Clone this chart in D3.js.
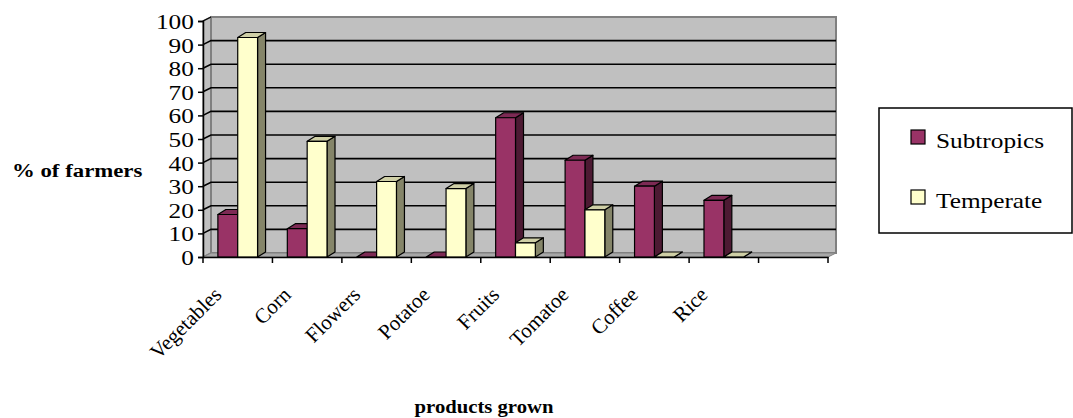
<!DOCTYPE html>
<html>
<head>
<meta charset="utf-8">
<script src="https://cdn.jsdelivr.net/npm/d3@7"></script>
<style>
  html, body { margin: 0; padding: 0; background: #ffffff; }
  svg { display: block; }
  text { font-family: "Liberation Serif", "Times New Roman", serif; fill: #000; }
</style>
</head>
<body>
<svg id="chart" width="1073" height="418"></svg>
<script>
// Share of farmers growing each product, by climate zone
const categories = ["Vegetables", "Corn", "Flowers", "Potatoe", "Fruits", "Tomatoe", "Coffee", "Rice", ""];
const seriesNames = ["Subtropics", "Temperate"];
const subtropics = [18, 12, 0, 0, 59, 41, 30, 24, null];
const temperate  = [93, 49, 32, 29, 6, 20, 0, 0, null];
const yTicks = [0, 10, 20, 30, 40, 50, 60, 70, 80, 90, 100];

const svg = d3.select("#chart");

// front plane of the plot and 3-D offsets
const X0 = 203, X1 = 828, Y0 = 257, Y1 = 21;
const WDX = 8, WDY = -4;   // wall depth
const BDX = 8, BDY = -5;   // bar depth
const SX = 1.15;           // horizontal stretch of the type

const x0 = d3.scaleBand().domain(categories).range([X0, X1]).padding(0);
const x1 = d3.scaleBand().domain(seriesNames).range([0, x0.step()])
  .paddingInner(0).paddingOuter(0.75);
const y = d3.scaleLinear().domain([0, 100]).range([Y0, Y1]);

const faces = {
  Subtropics: { front: "#993366", top: "#7d2a54", side: "#4d1a33" },
  Temperate:  { front: "#ffffcc", top: "#cfcfa6", side: "#858569" }
};

const wallTop = y(100) + WDY, wallBot = y(0) + WDY;

// left side wall
svg.append("polygon")
  .attr("points", [[X0, y(100)], [X0 + WDX, wallTop], [X0 + WDX, wallBot], [X0, y(0)]].join(" "))
  .attr("fill", "#c0c0c0").attr("stroke", "#808080").attr("stroke-width", 1.5);

// back wall
svg.append("rect")
  .attr("x", X0 + WDX).attr("y", wallTop)
  .attr("width", X1 - X0).attr("height", wallBot - wallTop)
  .attr("fill", "#c0c0c0").attr("stroke", "#808080").attr("stroke-width", 2);

// floor
svg.append("polygon")
  .attr("points", [[X0, y(0)], [X0 + WDX, wallBot], [X1 + WDX, wallBot], [X1, y(0)]].join(" "))
  .attr("fill", "#a8a8a8").attr("stroke", "#808080").attr("stroke-width", 1);

// gridlines across the side wall and the back wall
const grid = svg.append("g");
yTicks.filter(t => t > 0 && t < 100).forEach(t => {
  grid.append("polyline")
    .attr("points", [[X0, y(t)], [X0 + WDX, y(t) + WDY], [X1 + WDX, y(t) + WDY]].join(" "))
    .attr("fill", "none").attr("stroke", "#000").attr("stroke-width", 1.6);
});
grid.append("line")
  .attr("x1", X0).attr("y1", y(100)).attr("x2", X0 + WDX).attr("y2", wallTop)
  .attr("stroke", "#000").attr("stroke-width", 1.2);

// 3-D columns
const rows = categories.map((c, i) => ({
  cat: c,
  vals: [{ s: "Subtropics", v: subtropics[i] }, { s: "Temperate", v: temperate[i] }]
})).filter(r => r.cat !== "");

const bars = svg.append("g");
rows.forEach(r => {
  r.vals.forEach(d => {
    if (d.v == null) return;
    const c = faces[d.s];
    const bx = x0(r.cat) + x1(d.s), w = x1.bandwidth();
    const yt = y(d.v), yb = y(0);
    const g = bars.append("g").attr("stroke", "#000").attr("stroke-width", 1.2)
      .attr("stroke-linejoin", "round");
    g.append("polygon")
      .attr("points", [[bx + w, yt], [bx + w + BDX, yt + BDY], [bx + w + BDX, yb + BDY], [bx + w, yb]].join(" "))
      .attr("fill", c.side);
    g.append("polygon")
      .attr("points", [[bx, yt], [bx + BDX, yt + BDY], [bx + w + BDX, yt + BDY], [bx + w, yt]].join(" "))
      .attr("fill", c.top);
    if (yb - yt > 0) {
      g.append("rect").attr("x", bx).attr("y", yt).attr("width", w).attr("height", yb - yt)
        .attr("fill", c.front);
    }
  });
});

// value axis
const yAxis = d3.axisLeft(y).tickValues(yTicks).tickSize(5).tickPadding(3).tickFormat(d3.format("d"));
const yg = svg.append("g").attr("transform", `translate(${X0},0)`).call(yAxis);
yg.select(".domain").attr("stroke", "#000").attr("stroke-width", 1.5);
yg.selectAll(".tick line").attr("stroke", "#000").attr("stroke-width", 1.5);
yg.selectAll(".tick text")
  .attr("font-family", "Liberation Serif").attr("font-size", 22)
  .attr("dy", "0.34em")
  .attr("transform", `scale(${SX},1)`);

// category axis
const xAxis = d3.axisBottom(x0).tickSize(0).tickFormat("");
const xg = svg.append("g").attr("transform", `translate(0,${Y0})`).call(xAxis);
xg.select(".domain").attr("stroke", "#000").attr("stroke-width", 1.5);
xg.selectAll(".tick").remove();
const bounds = categories.map(c => x0(c)).concat([X1]);
xg.selectAll("line.cat-tick").data(bounds).join("line")
  .attr("class", "cat-tick")
  .attr("x1", d => d).attr("x2", d => d).attr("y1", 0).attr("y2", 6)
  .attr("stroke", "#000").attr("stroke-width", 1.5);

svg.append("g").selectAll("text").data(categories.filter(c => c !== "")).join("text")
  .attr("transform", d => `translate(${x0(d) + x0.step() / 2 - 15},${296}) rotate(-45)`)
  .attr("text-anchor", "end")
  .attr("font-size", 21)
  .text(d => d);

// axis titles
svg.append("text")
  .attr("transform", `translate(12,177) scale(1.2,1)`)
  .attr("font-size", 19).attr("font-weight", "bold")
  .text("% of farmers");
svg.append("text")
  .attr("transform", `translate(484,413) scale(${SX},1)`)
  .attr("text-anchor", "middle")
  .attr("font-size", 18).attr("font-weight", "bold")
  .text("products grown");

// legend
const lg = svg.append("g");
lg.append("rect").attr("x", 879).attr("y", 108).attr("width", 193).attr("height", 125)
  .attr("fill", "#fff").attr("stroke", "#000").attr("stroke-width", 1.5);
seriesNames.forEach((s, i) => {
  const yy = 130 + i * 60;
  lg.append("rect").attr("x", 911).attr("y", yy).attr("width", 14).attr("height", 14)
    .attr("fill", faces[s].front).attr("stroke", "#000").attr("stroke-width", 1.2);
  lg.append("text")
    .attr("transform", `translate(936,${yy + 18}) scale(${SX},1)`)
    .attr("font-size", 22)
    .text(s);
});
</script>
</body>
</html>
